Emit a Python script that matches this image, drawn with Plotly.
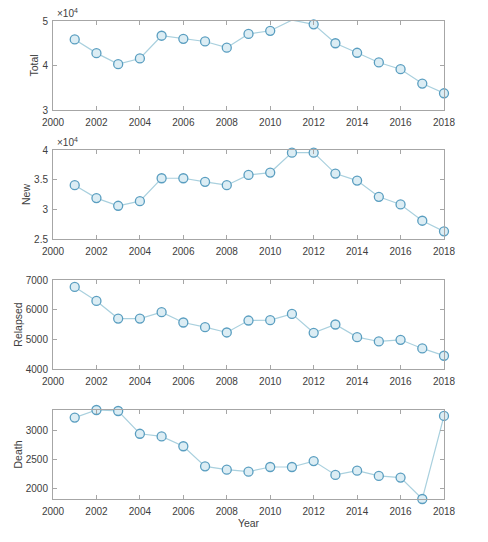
import plotly.graph_objects as go

years = list(range(2001, 2019))
total = [45860, 42780, 40300, 41580, 46690, 46000, 45400, 44000, 47100, 47800,
         50200, 49250, 45000, 42860, 40680, 39170, 35940, 33760]
new = [34070, 31890, 30600, 31380, 35240, 35240, 34630, 34070, 35800, 36200,
       39550, 39550, 36030, 34850, 32110, 30820, 28080, 26290]
relapsed = [6765, 6295, 5701, 5700, 5914, 5567, 5410, 5231, 5634, 5645,
            5858, 5220, 5500, 5074, 4928, 4984, 4693, 4447]
death = [3216, 3347, 3330, 2937, 2892, 2722, 2375, 2318, 2284, 2364,
         2364, 2466, 2227, 2301, 2210, 2182, 1812, 3244]

names = ["Total", "New", "Relapsed", "Death"]
series = [total, new, relapsed, death]
ranges = [[30000, 50000], [25000, 40000], [4000, 7000], [min(death), max(death)]]
tickvals = [[30000, 40000, 50000], [25000, 30000, 35000, 40000],
            [4000, 5000, 6000, 7000], [2000, 2500, 3000]]
ticktext = [["3", "4", "5"], ["2.5", "3", "3.5", "4"],
            ["4000", "5000", "6000", "7000"], ["2000", "2500", "3000"]]

# page body adds an 8px offset, so the figure is 8px smaller and shifted
H = 534.0
W = 480.0
ML, MR, MT, MB = 45, 44, 13, 43
PH = H - MT - MB
tops = [13, 142, 272, 402]
bots = [102, 231, 361, 491]

FONT = "Liberation Sans, Arial, sans-serif"
TXT = "#404040"
AX = "#a6a6a6"
LINE = "#a9d0de"
MEDGE = "#5a9ec0"
MFILL = "#dcedf4"

fig = go.Figure()
layout = dict(
    width=int(W), height=int(H),
    margin=dict(l=ML, r=MR, t=MT, b=MB, autoexpand=False),
    paper_bgcolor="white", plot_bgcolor="white",
    showlegend=False,
    font=dict(family=FONT, size=10, color=TXT),
)
annotations = []
for i in range(4):
    n = i + 1
    xa = "x" if n == 1 else f"x{n}"
    ya = "y" if n == 1 else f"y{n}"
    fig.add_trace(go.Scatter(
        x=years, y=series[i], mode="lines+markers", xaxis=xa, yaxis=ya,
        cliponaxis=False,
        line=dict(color=LINE, width=1.2),
        marker=dict(symbol="circle", size=9, color=MFILL,
                    line=dict(color=MEDGE, width=1.3)),
    ))
    dom = [(H - MB - bots[i]) / PH, (H - MB - tops[i]) / PH]
    layout[f"xaxis{'' if n == 1 else n}"] = dict(
        domain=[0, 1], anchor=ya, range=[2000, 2018], automargin=False,
        tickvals=list(range(2000, 2019, 2)),
        ticks="inside", ticklen=4, tickcolor=AX, showgrid=False, zeroline=False,
        showline=True, linecolor=AX, linewidth=1, mirror="ticks",
        ticklabelstandoff=3,
        tickfont=dict(family=FONT, size=10, color=TXT),
        title=dict(text="Year" if n == 4 else "", font=dict(size=10.5, color=TXT), standoff=2),
    )
    layout[f"yaxis{'' if n == 1 else n}"] = dict(
        domain=dom, anchor=xa, range=ranges[i], automargin=False,
        tickvals=tickvals[i], ticktext=ticktext[i],
        ticks="inside", ticklen=4, tickcolor=AX, showgrid=False, zeroline=False,
        showline=True, linecolor=AX, linewidth=1, mirror="ticks",
        ticklabelstandoff=2,
        tickfont=dict(family=FONT, size=10, color=TXT),
        title=dict(text=names[i], font=dict(size=10.5, color=TXT), standoff=1),
    )
    if i < 2:
        annotations.append(dict(
            x=0.005, y=dom[1], xref="paper", yref="paper",
            xanchor="left", yanchor="bottom", showarrow=False,
            text="×10<sup>4</sup>", font=dict(family=FONT, size=10, color=TXT),
        ))
layout["annotations"] = annotations
fig.update_layout(**layout)
fig.write_html("out.html")
